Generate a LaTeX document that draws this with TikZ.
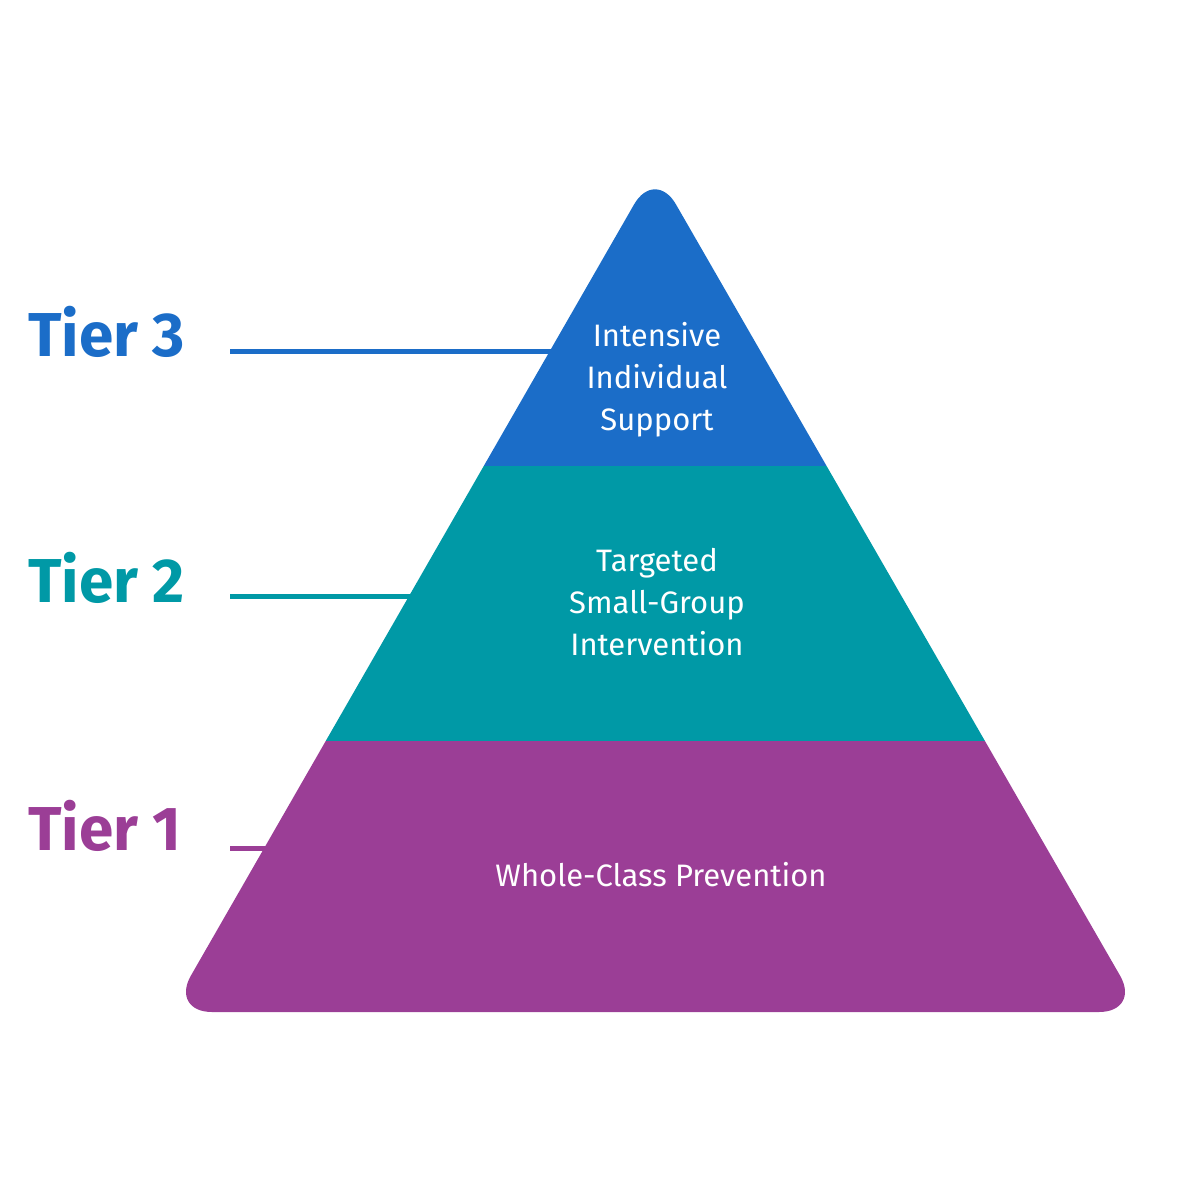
\documentclass[tikz,border=0pt]{standalone}
\usepackage{fontspec}
\setmainfont{Fira Sans}
\definecolor{tblue}{HTML}{1B6DC8}
\definecolor{tteal}{HTML}{0099A6}
\definecolor{tpurp}{HTML}{9B3E96}
\begin{document}
\begin{tikzpicture}[x=1pt,y=-1pt,
  tier/.style={font=\fontsize{62}{62}\selectfont\bfseries,anchor=west,inner sep=0},
  inner/.style={font=\fontsize{31}{42}\selectfont,text=white,align=center},
  lead/.style={line width=5pt}]
\useasboundingbox (0,0) rectangle (1200,1200);
\begin{scope}
\clip[rounded corners=42pt] (655,168) -- (1141,1012) -- (170,1012) -- cycle;
\fill[tblue] (0,0) rectangle (1200,466);
\fill[tteal] (0,466) rectangle (1200,741);
\fill[tpurp] (0,741) rectangle (1200,1100);
\end{scope}
\node[inner] (t3) at (657,380) {Intensive\\Individual\\Support};
\node[inner] (t2) at (657,602) {Targeted\\Small-Group\\Intervention};
\node[inner] (t1) at (661,875) {Whole-Class Prevention};
\node[tier,text=tblue] (l3) at (28,332) {Tier 3};
\node[tier,text=tteal] (l2) at (28,578) {Tier 2};
\node[tier,text=tpurp] (l1) at (28,826) {Tier 1};
\coordinate (e3) at (553,351);
\coordinate (e2) at (412,596);
\coordinate (e1) at (266,848);
\draw[lead,tblue] (230,351) -- (e3);
\draw[lead,tteal] (230,596) -- (e2);
\draw[lead,tpurp] (230,848) -- (e1);
\end{tikzpicture}
\end{document}
